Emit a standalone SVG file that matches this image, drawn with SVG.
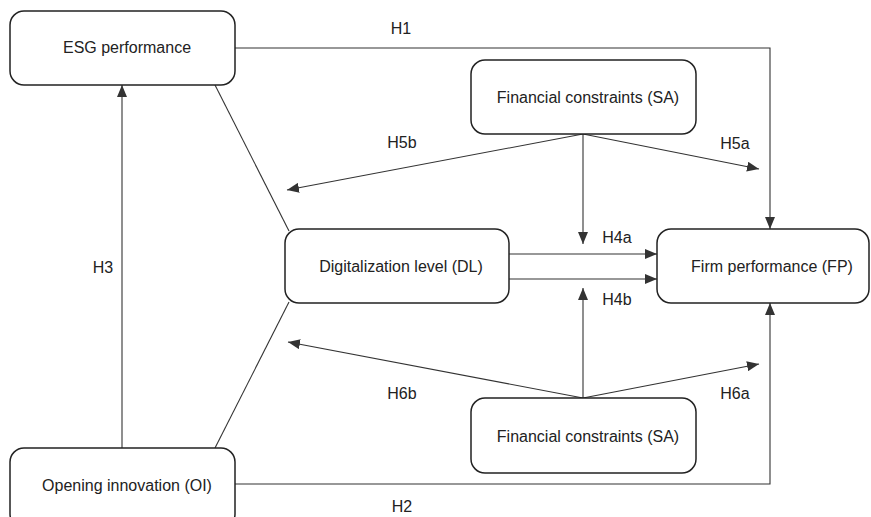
<svg xmlns="http://www.w3.org/2000/svg" width="871" height="517" viewBox="0 0 871 517">
<style>
.box{fill:#fff;stroke:#222;stroke-width:1.5}
.t{font-family:"Liberation Sans",Arial,sans-serif;font-size:16px;fill:#222;text-anchor:middle}
.c{fill:none;stroke:#333;stroke-width:1.1}
</style>
<defs>
<marker id="ah" viewBox="0 0 12 10" refX="12" refY="5" markerWidth="12" markerHeight="10" markerUnits="userSpaceOnUse" orient="auto">
<path d="M0,0 L12,5 L0,10 Z" fill="#333"/>
</marker>
</defs>
<rect width="871" height="517" fill="#fff"/>
<g id="connectors">
<path class="c" d="M235,48 H770 V229" marker-end="url(#ah)"/>
<path class="c" d="M235,484 H770 V303" marker-end="url(#ah)"/>
<path class="c" d="M122,448 V85" marker-end="url(#ah)"/>
<path class="c" d="M215,85 L289,231"/>
<path class="c" d="M215,448 L289,302"/>
<path class="c" d="M583,134 L287,190" marker-end="url(#ah)"/>
<path class="c" d="M583,134 L759,169" marker-end="url(#ah)"/>
<path class="c" d="M583,134 V244" marker-end="url(#ah)"/>
<path class="c" d="M509,254 H657" marker-end="url(#ah)"/>
<path class="c" d="M509,279 H657" marker-end="url(#ah)"/>
<path class="c" d="M583,398 V288" marker-end="url(#ah)"/>
<path class="c" d="M583,398 L288,342" marker-end="url(#ah)"/>
<path class="c" d="M583,398 L759,364" marker-end="url(#ah)"/>
<text class="t" x="401" y="34">H1</text>
<text class="t" x="402" y="512">H2</text>
<text class="t" x="103" y="273">H3</text>
<text class="t" x="617" y="243">H4a</text>
<text class="t" x="617" y="305">H4b</text>
<text class="t" x="735" y="149">H5a</text>
<text class="t" x="402" y="148">H5b</text>
<text class="t" x="735" y="399">H6a</text>
<text class="t" x="402" y="399">H6b</text>
</g>
<g id="esg">
<rect class="box" x="10" y="11" width="225" height="74" rx="14"/>
<text class="t" x="127" y="53">ESG performance</text>
</g>
<g id="sa-top">
<rect class="box" x="471" y="60" width="225" height="74" rx="14"/>
<text class="t" x="588" y="103">Financial constraints (SA)</text>
</g>
<g id="dl">
<rect class="box" x="285" y="229" width="224" height="74" rx="14"/>
<text class="t" x="401" y="272">Digitalization level (DL)</text>
</g>
<g id="fp">
<rect class="box" x="657" y="229" width="212" height="74" rx="14"/>
<text class="t" x="772" y="272">Firm performance (FP)</text>
</g>
<g id="sa-bottom">
<rect class="box" x="471" y="398" width="225" height="75" rx="14"/>
<text class="t" x="588" y="442">Financial constraints (SA)</text>
</g>
<g id="oi">
<rect class="box" x="10" y="448" width="225" height="80" rx="14"/>
<text class="t" x="127" y="491">Opening innovation (OI)</text>
</g>
</svg>
